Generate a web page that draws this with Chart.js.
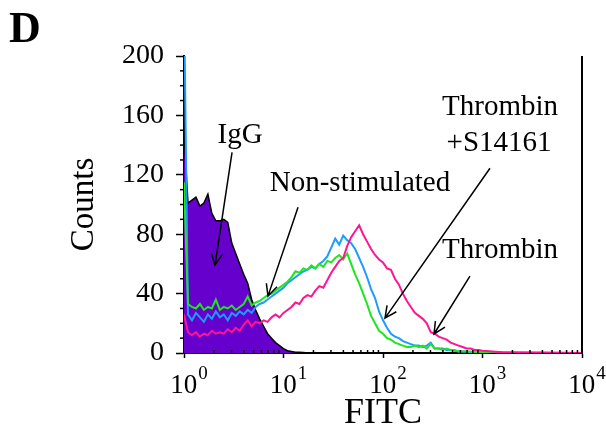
<!DOCTYPE html>
<html lang="en">

<head>
    <meta charset="UTF-8">
    <title>FITC histogram</title>
    <style>
        html, body { margin: 0; padding: 0; background: #fff; }
        canvas { display: block; }
    </style>
</head>

<body>
    <canvas id="chart" width="606" height="432"></canvas>

    <script src="https://cdn.jsdelivr.net/npm/chart.js"></script>
    <script>
        // FITC channel positions, as decades (10^value)
        const fitcLog = [
            0, 0.04, 0.08, 0.12, 0.16, 0.20, 0.24, 0.28, 0.32, 0.36,
            0.40, 0.44, 0.48, 0.52, 0.56, 0.60, 0.64, 0.68, 0.72, 0.76,
            0.80, 0.84, 0.88, 0.92, 0.96, 1.00, 1.04, 1.08, 1.12, 1.16,
            1.20, 1.24, 1.28, 1.32, 1.36, 1.40, 1.44, 1.48, 1.52, 1.56,
            1.60, 1.64, 1.68, 1.72, 1.76, 1.80, 1.84, 1.88, 1.92, 1.96,
            2.00, 2.04, 2.08, 2.12, 2.16, 2.20, 2.24, 2.28, 2.32, 2.36,
            2.40, 2.44, 2.48, 2.52, 2.56, 2.60, 2.64, 2.68, 2.72, 2.76,
            2.80, 2.84, 2.88, 2.92, 2.96, 3.00, 3.20, 3.60, 4.00
        ];

        // counts per channel
        const igg = [
            148, 101, 103, 105, 99, 101, 107, 94, 89, 89,
            90, 88, 74, 67, 60, 53, 47, 36, 29, 23,
            18, 13, 10, 7, 5, 3, 1.5, 1, 0.5, 0.5,
            0.3, 0
        ];
        const nonStimulated = [
            115, 33, 31, 30, 33, 29, 31, 30, 36, 29,
            31, 30, 32, 29, 31, 33, 38, 32, 34, 35,
            37, 39, 40, 42, 44, 46, 48, 51, 55, 54,
            57, 56, 59, 57, 60, 58, 62, 61, 64, 66,
            63, 67, 60, 53, 47, 40, 33, 25, 20, 15,
            13, 10, 9, 7, 6, 5, 4, 4, 5, 4,
            5, 3, 6, 3, 3, 2, 3, 2, 2, 1,
            1, 1, 1, 0.5, 0.5, 0.5, 0.3, 0.5, 0
        ];
        const thrombinS14161 = [
            240, 26, 22, 27, 24, 21, 26, 23, 28, 24,
            26, 22, 27, 25, 28, 26, 29, 27, 31, 33,
            34, 36, 38, 40, 42, 44, 47, 49, 51, 53,
            55, 56, 58, 57, 60, 62, 65, 71, 77, 73,
            79, 76, 74, 70, 64, 58, 51, 43, 37, 28,
            22, 17, 13, 11, 10, 8, 7, 6, 5, 5,
            4, 5, 7, 3, 3, 3, 2, 2, 1.5, 1,
            1, 1, 0.5, 0.5, 0.5, 0, 0.3, 0, 0
        ];
        const thrombin = [
            26, 14, 12, 14, 11, 13, 12, 15, 13, 14,
            13, 16, 14, 17, 15, 19, 22, 18, 21, 20,
            22, 21, 24, 26, 24, 27, 29, 31, 34, 33,
            37, 39, 38, 42, 45, 44, 49, 54, 58, 62,
            64, 72, 78, 82, 86, 80, 75, 70, 66, 63,
            61, 57, 56, 50, 46, 40, 35, 31, 27, 25,
            23, 20, 14, 13, 11, 10, 9, 7, 6, 5,
            4, 3, 3, 2, 2, 1.5, 0.5, 0, 0
        ];

        const xTickExps = [0, 1, 2, 3, 4];
        const xMinorMult = [2, 3, 4, 5, 6, 7, 8, 9];
        const yMajorTicks = [0, 40, 80, 120, 160, 200];
        const yMinorTicks = [10, 20, 30, 50, 60, 70, 90, 100, 110, 130, 140, 150, 170, 180, 190];

        // annotation labels and arrows (data units)
        const noteText = ['IgG', 'Non-stimulated', 'Thrombin', '+S14161', 'Thrombin'];
        const noteX = [3.66, 58.7, 1500, 1466, 1500];
        const noteY = [146.6, 114.3, 165.4, 141.2, 69.2];
        const arrowFrom = [[3.04, 135.1], [14.0, 98.2], [1189, 124.4], [748, 51.8]];
        const arrowTo = [[2.05, 59.2], [6.98, 38.3], [104.7, 23.5], [325.6, 12.8]];

        const serif = "'Liberation Serif', 'Times New Roman', serif";

        function toPoints(series) {
            return series.map((v, i) => ({ x: Math.pow(10, fitcLog[i]), y: v }));
        }

        const decor = {
            id: 'decor',
            afterDraw(chart) {
                const ctx = chart.ctx;
                const xs = chart.scales.x;
                const ys = chart.scales.y;
                const area = chart.chartArea;
                ctx.save();
                ctx.strokeStyle = '#000';
                ctx.fillStyle = '#000';

                // right frame line
                ctx.lineWidth = 2;
                ctx.beginPath();
                ctx.moveTo(area.right, area.top);
                ctx.lineTo(area.right, area.bottom + 1);
                ctx.stroke();

                // minor ticks
                ctx.lineWidth = 1.5;
                yMinorTicks.forEach(v => {
                    const py = ys.getPixelForValue(v);
                    ctx.beginPath();
                    ctx.moveTo(area.left - 4, py);
                    ctx.lineTo(area.left, py);
                    ctx.stroke();
                });
                for (let d = 0; d < 4; d++) {
                    xMinorMult.forEach(m => {
                        const px = xs.getPixelForValue(m * Math.pow(10, d));
                        ctx.beginPath();
                        ctx.moveTo(px, area.bottom);
                        ctx.lineTo(px, area.bottom - 3);
                        ctx.stroke();
                    });
                }

                // x tick labels 10^n
                ctx.textBaseline = 'alphabetic';
                ctx.textAlign = 'left';
                xTickExps.forEach(e => {
                    const px = xs.getPixelForValue(Math.pow(10, e));
                    ctx.font = '27px ' + serif;
                    const wb = ctx.measureText('10').width;
                    ctx.font = '19px ' + serif;
                    const we = ctx.measureText(String(e)).width;
                    const x0 = px + 5 - (wb + we + 1) / 2;
                    ctx.font = '27px ' + serif;
                    ctx.fillText('10', x0, 393);
                    ctx.font = '19px ' + serif;
                    ctx.fillText(String(e), x0 + wb + 1, 379);
                });

                // annotations
                ctx.font = '29px ' + serif;
                ctx.textAlign = 'center';
                ctx.textBaseline = 'middle';
                noteText.forEach((t, i) => {
                    ctx.fillText(t, xs.getPixelForValue(noteX[i]), ys.getPixelForValue(noteY[i]));
                });

                ctx.lineWidth = 1.5;
                arrowFrom.forEach((f, i) => {
                    const x1 = xs.getPixelForValue(f[0]), y1 = ys.getPixelForValue(f[1]);
                    const x2 = xs.getPixelForValue(arrowTo[i][0]), y2 = ys.getPixelForValue(arrowTo[i][1]);
                    const ang = Math.atan2(y2 - y1, x2 - x1);
                    const head = 13, spread = 0.45;
                    ctx.beginPath();
                    ctx.moveTo(x1, y1);
                    ctx.lineTo(x2, y2);
                    ctx.moveTo(x2 - head * Math.cos(ang - spread), y2 - head * Math.sin(ang - spread));
                    ctx.lineTo(x2, y2);
                    ctx.lineTo(x2 - head * Math.cos(ang + spread), y2 - head * Math.sin(ang + spread));
                    ctx.stroke();
                });

                // panel letter
                ctx.font = 'bold 44px ' + serif;
                ctx.textAlign = 'left';
                ctx.textBaseline = 'alphabetic';
                ctx.fillText('D', 9, 42);
                ctx.restore();
            }
        };

        const lineStyle = { pointRadius: 0, borderWidth: 2, tension: 0, fill: false };

        new Chart(document.getElementById('chart'), {
            type: 'line',
            data: {
                datasets: [
                    Object.assign({ label: 'Thrombin', data: toPoints(thrombin), borderColor: '#ff1493' }, lineStyle),
                    Object.assign({ label: 'Non-stimulated', data: toPoints(nonStimulated), borderColor: '#1ee61e' }, lineStyle),
                    Object.assign({ label: 'Thrombin+S14161', data: toPoints(thrombinS14161), borderColor: '#1e9bff' }, lineStyle),
                    {
                        label: 'IgG', data: toPoints(igg), borderColor: '#000', borderWidth: 1.5,
                        backgroundColor: '#6600cc', fill: 'origin', pointRadius: 0, tension: 0
                    }
                ]
            },
            options: {
                responsive: false,
                animation: false,
                layout: { padding: { left: 68, right: 24, top: 56, bottom: 0 } },
                plugins: { legend: { display: false }, tooltip: { enabled: false } },
                scales: {
                    x: {
                        type: 'logarithmic',
                        min: 1,
                        max: 10000,
                        afterBuildTicks: scale => {
                            scale.ticks = xTickExps.map(e => ({ value: Math.pow(10, e) }));
                        },
                        afterFit: scale => { scale.height = 79; },
                        ticks: { display: false },
                        grid: { drawOnChartArea: false, drawTicks: true, tickLength: 5, tickColor: '#000', tickWidth: 1.5 },
                        border: { display: true, color: '#000', width: 2 },
                        title: {
                            display: true, text: 'FITC', color: '#000',
                            font: { family: serif, size: 36, lineHeight: 1 }, padding: 0
                        }
                    },
                    y: {
                        min: 0,
                        max: 200,
                        afterBuildTicks: scale => {
                            scale.ticks = yMajorTicks.map(v => ({ value: v }));
                        },
                        afterFit: scale => { scale.width = 116; },
                        ticks: { color: '#000', padding: 12, font: { family: serif, size: 28 } },
                        grid: { drawOnChartArea: false, drawTicks: true, tickLength: 8, tickColor: '#000', tickWidth: 1.5 },
                        border: { display: true, color: '#000', width: 2 },
                        title: {
                            display: true, text: 'Counts', color: '#000',
                            font: { family: serif, size: 33, lineHeight: 1 }, padding: 0
                        }
                    }
                }
            },
            plugins: [decor]
        });
    </script>
</body>

</html>
